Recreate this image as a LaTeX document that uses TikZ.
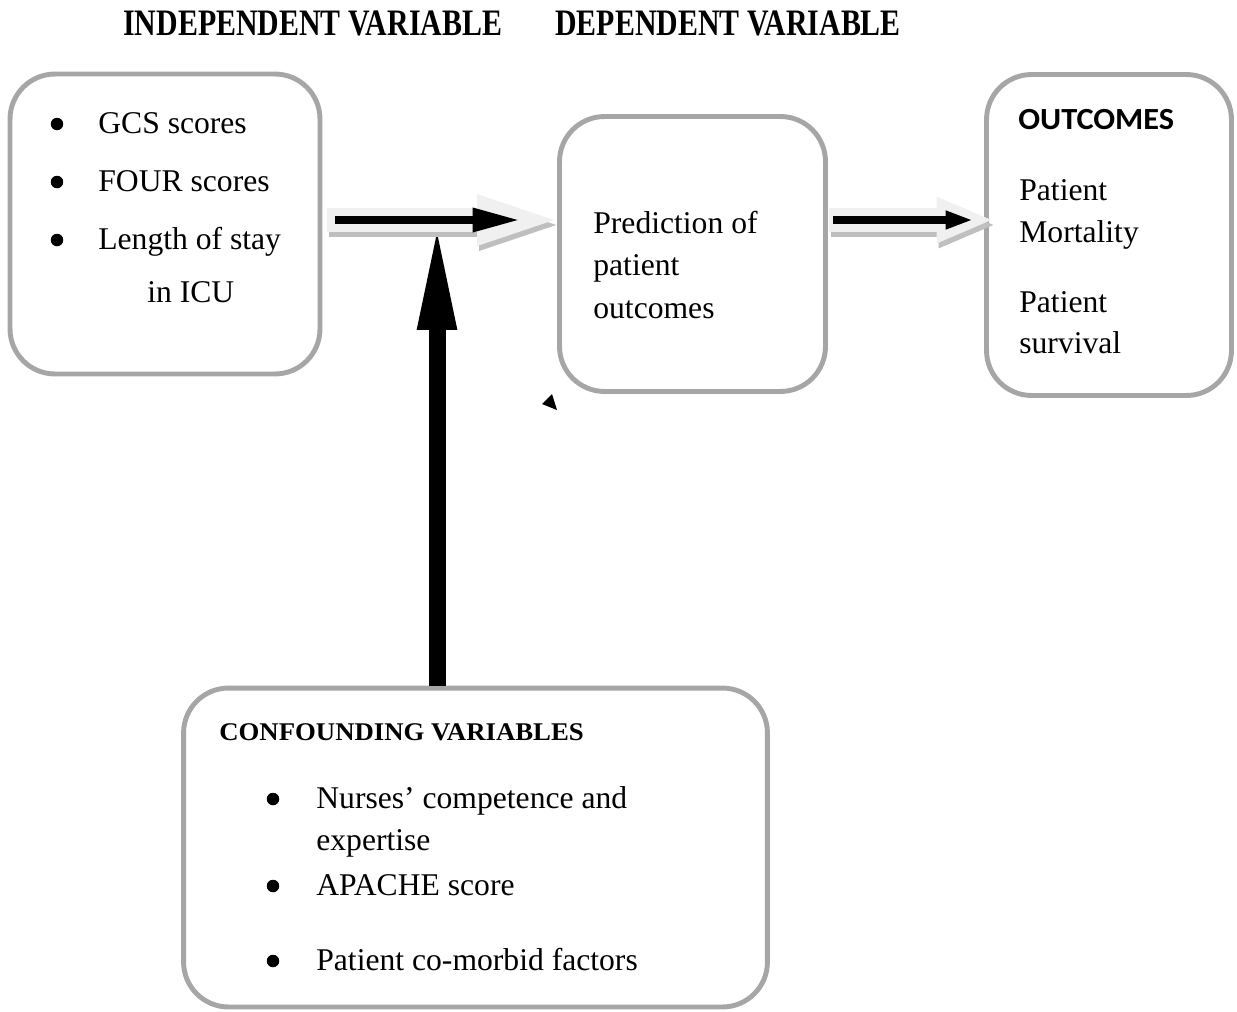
\documentclass[tikz,border=0pt]{standalone}
\usepackage{fontspec}
\usepackage{graphicx}
\usepackage{xcolor}
\usepackage{tikz}
\usetikzlibrary{arrows.meta}
\setmainfont{Liberation Serif}
\newfontfamily\calibrifont{Carlito}

\definecolor{boxgray}{RGB}{166,166,166}
\definecolor{glowgray}{RGB}{240,240,240}
\definecolor{shadegray}{RGB}{191,191,191}

\begin{document}
\begin{tikzpicture}[
    x=0.02cm, y=-0.02cm,
    panel/.style={
        draw=boxgray,
        line width=2.8pt,
        rounded corners=0.9cm,
        fill=white,
        inner sep=0pt
    },
    txt/.style={anchor=base west, inner sep=0pt, font=\fontsize{18}{22}\selectfont},
    dot/.style={circle, fill=black, inner sep=0pt, minimum size=0.25cm},
    head/.style={anchor=base west, inner sep=0pt, font=\fontsize{17}{20}\selectfont\bfseries},
    glow/.style={line width=0.48cm, draw=glowgray, -{Triangle[length=1.9cm, width=0.84cm]}},
    shade/.style={line width=0.48cm, draw=shadegray, -{Triangle[length=1.9cm, width=0.84cm]}},
    short/.style={-{Triangle[length=1.15cm, width=0.84cm]}},
    flow/.style={line width=0.16cm, -{Triangle[length=0.95cm, width=0.45cm]}},
    feed/.style={line width=0.34cm, -{Triangle[length=2.2cm, width=0.7cm]}}
]
\useasboundingbox (0,0) rectangle (1237,1011);

% headings
\node[head] (hindep) at (123,35) {\scalebox{1}[1.25]{INDEPENDENT VARIABLE}};
\node[head] (hdep) at (555,35) {\scalebox{1}[1.25]{DEPENDENT VARIABLE}};

% boxes
\node[panel, minimum width=6.2cm, minimum height=6.0cm] (indep) at (165,224) {};
\node[panel, minimum width=5.32cm, minimum height=5.5cm] (predict) at (692.5,254) {};
\node[panel, minimum width=4.9cm, minimum height=6.42cm] (outcome) at (1109,235) {};
\node[panel, minimum width=11.68cm, minimum height=6.38cm] (confound) at (475.5,847.5) {};

% helper rows for the connectors
\coordinate (row) at (0,220);
\coordinate (col) at (437,0);

% confounders feed into the first connector
\draw[feed] (confound.north -| col) -- (col |- row);

% independent -> dependent
\draw[shade] ([xshift=0.14cm, yshift=-0.1cm]indep.east |- row) -- ([xshift=0.34cm, yshift=-0.1cm]predict.west |- row);
\draw[glow] ([xshift=0.1cm]indep.east |- row) -- ([xshift=0.3cm]predict.west |- row);
\draw[flow] ([xshift=0.25cm]indep.east |- row) -- ([xshift=-0.74cm]predict.west |- row);

% dependent -> outcomes
\draw[shade, short] ([xshift=0.06cm, yshift=-0.1cm]predict.east |- row) -- ([xshift=0.24cm, yshift=-0.1cm]outcome.west |- row);
\draw[glow, short] ([xshift=0.02cm]predict.east |- row) -- ([xshift=0.2cm]outcome.west |- row);
\draw[flow, -{Triangle[length=0.55cm, width=0.34cm]}] ([xshift=0.1cm]predict.east |- row) -- ([xshift=-0.22cm]outcome.west |- row);

% stray arrow tip
\fill (552,394) -- (542,404) -- (557,410) -- cycle;

% independent variables
\node[dot] (d1) at (57,124) {};
\node[txt] (gcs) at (98,133) {GCS scores};
\node[dot] (d2) at (57,182) {};
\node[txt] (four) at (98,191) {FOUR scores};
\node[dot] (d3) at (57,240) {};
\node[txt] (stay) at (98,249) {Length of stay};
\node[txt] (icu) at (147,302) {in ICU};

% dependent variable
\node[txt] (pred1) at (593,233) {Prediction of};
\node[txt] (pred2) at (593,275) {patient};
\node[txt] (pred3) at (593,318) {outcomes};

% outcomes
\node[anchor=base west, inner sep=0pt, font=\calibrifont\fontsize{17.5}{20}\selectfont\bfseries] (otitle) at (1018,129) {\scalebox{1.05}[1]{OUTCOMES}};
\node[txt] (mort1) at (1019,200) {Patient};
\node[txt] (mort2) at (1019,242) {Mortality};
\node[txt] (surv1) at (1019,312) {Patient};
\node[txt] (surv2) at (1019,353) {survival};

% confounding variables
\node[anchor=base west, inner sep=0pt, font=\fontsize{14.5}{17}\selectfont\bfseries] (ctitle) at (219,740) {\scalebox{1.05}[1]{CONFOUNDING VARIABLES}};
\node[dot] (c1) at (273,799) {};
\node[txt] (nurse1) at (316,808) {Nurses’ competence and};
\node[txt] (nurse2) at (316,850) {expertise};
\node[dot] (c2) at (273,886) {};
\node[txt] (apache) at (316,895) {APACHE score};
\node[dot] (c3) at (273,961) {};
\node[txt] (comorb) at (316,970) {Patient co-morbid factors};

\end{tikzpicture}
\end{document}
